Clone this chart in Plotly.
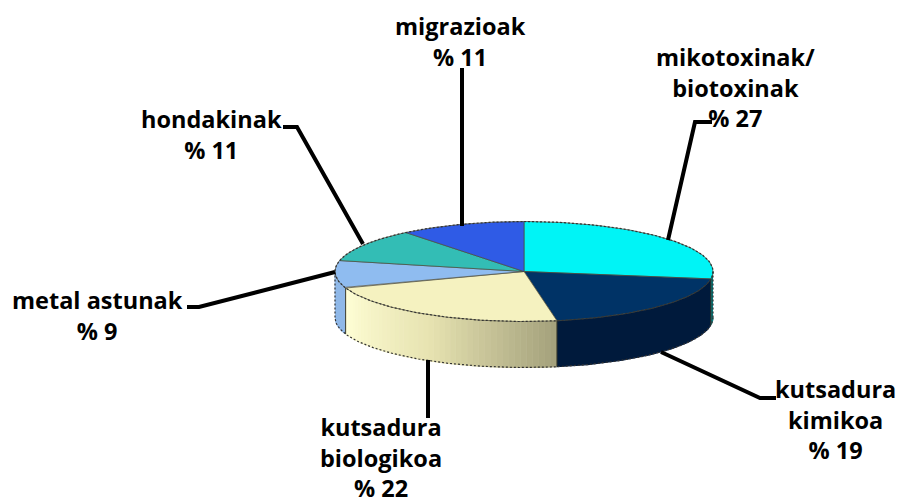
import numpy as np
import plotly.graph_objects as go

# Data
categories = ["mikotoxinak/<br>biotoxinak", "kutsadura<br>kimikoa", "kutsadura<br>biologikoa",
              "metal astunak", "hondakinak", "migrazioak"]
values = [27, 19, 22, 9, 11, 11]

# Styles
top_colors = ["#00F4F6", "#003366", "#F5F2C0", "#8FBCF0", "#33BDB5", "#2F5BE6"]
side_colors = ["#007C80", "#001A3C", None, "#8FB8E8", "#1F7D78", "#1A3A90"]
cx, cy, rx, ry, depth = 524, 271.5, 189, 50, 46
W, H = 898, 504

total = sum(values)
edges = np.concatenate([[0], np.cumsum(values)]) / total * 2 * np.pi
# Slight angular skew from the tilted 3D view
edges = edges + np.radians(3.7 * (1 + np.cos(edges - np.radians(230))) / 2
                           - 0.66 * (1 + np.cos(edges)) / 2)


def px(t):
    return cx + rx * np.sin(t)


def py(t, dz=0):
    return cy - ry * np.cos(t) + dz


fig = go.Figure()


def poly(xs, ys, color, line=None, lw=0):
    fig.add_trace(go.Scatter(x=list(xs), y=list(ys), mode="lines", fill="toself", fillcolor=color,
                             line=dict(color=line or color, width=lw if lw else 1.2),
                             hoverinfo="skip", showlegend=False))


def mix(a, b, f):
    return "rgb(%d,%d,%d)" % tuple(a[i] + (b[i] - a[i]) * f for i in range(3))


# Sides (front half only)
for i in range(len(values)):
    a = max(edges[i], np.pi / 2)
    b = min(edges[i + 1], 3 * np.pi / 2)
    if b <= a:
        continue
    if side_colors[i] is not None:
        t = np.linspace(a, b, 60)
        poly(np.r_[px(t), px(t[::-1])], np.r_[py(t), py(t[::-1], depth)], side_colors[i])
    else:
        # shaded cylinder wall of the cream slice
        n = 44
        ts = np.linspace(a, b, n + 1)
        c0, c1, c2 = (255, 255, 214), (232, 228, 178), (165, 162, 125)
        for k in range(n):
            f = k / (n - 1)
            col = mix(c2, c1, f / 0.5) if f < 0.5 else mix(c1, c0, (f - 0.5) / 0.5)
            t = np.array([ts[k], ts[k + 1]])
            poly(np.r_[px(t), px(t[::-1])], np.r_[py(t), py(t[::-1], depth)], col)

# Top faces
for i in range(len(values)):
    t = np.linspace(edges[i], edges[i + 1], 80)
    poly(np.r_[cx, px(t), cx], np.r_[cy, py(t), cy], top_colors[i], line="#4A4A3A", lw=0.7)

# Wall edges
for t0 in edges:
    if np.pi / 2 < t0 < 3 * np.pi / 2:
        fig.add_trace(go.Scatter(x=[px(t0), px(t0)], y=[py(t0), py(t0, depth)], mode="lines",
                                 line=dict(color="#3A3A2A", width=1), hoverinfo="skip", showlegend=False))

# Dithered outline
t_full = np.linspace(0, 2 * np.pi, 300)
fig.add_trace(go.Scatter(x=px(t_full), y=py(t_full), mode="lines",
                         line=dict(color="#333333", width=1.2, dash="2px,2px"),
                         hoverinfo="skip", showlegend=False))
t_front = np.linspace(np.pi / 2, 3 * np.pi / 2, 200)
fig.add_trace(go.Scatter(x=px(t_front), y=py(t_front, depth), mode="lines",
                         line=dict(color="#333333", width=1.2, dash="2px,2px"),
                         hoverinfo="skip", showlegend=False))
for t0 in (np.pi / 2, 3 * np.pi / 2):
    fig.add_trace(go.Scatter(x=[px(t0), px(t0)], y=[py(t0), py(t0, depth)], mode="lines",
                             line=dict(color="#333333", width=1.2, dash="2px,2px"),
                             hoverinfo="skip", showlegend=False))

# Leader lines
leaders = [
    ([712, 695, 668], [122, 122, 240]),
    ([661, 760, 776], [352, 398, 398]),
    ([428, 428], [360, 418]),
    ([187, 199, 335], [307, 307, 272]),
    ([283, 297, 363], [127, 127, 244]),
    ([462, 462], [68, 226]),
]
for lx, ly in leaders:
    fig.add_trace(go.Scatter(x=lx, y=ly, mode="lines", line=dict(color="black", width=4),
                             hoverinfo="skip", showlegend=False))

# Labels: centre of each label block
label_xy = [(735, 87), (835, 419), (381, 457), (97, 315), (211, 134), (460, 41)]
annotations = []
for name, v, (lx, ly) in zip(categories, values, label_xy):
    annotations.append(dict(x=lx, y=ly, xref="x", yref="y", showarrow=False, align="center",
                            text=f"{name}<br>% {v}",
                            font=dict(family="Open Sans", size=23.5, color="black", weight=700)))

fig.update_layout(
    width=W, height=H, margin=dict(l=0, r=0, t=0, b=0), autosize=False,
    paper_bgcolor="white", plot_bgcolor="white", showlegend=False, annotations=annotations,
    xaxis=dict(range=[0, W], visible=False, fixedrange=True),
    yaxis=dict(range=[H, 0], visible=False, fixedrange=True),
)
fig.write_html("out.html", config={"displayModeBar": False},
               post_script="document.body.style.margin='0';document.body.style.overflow='hidden';")
